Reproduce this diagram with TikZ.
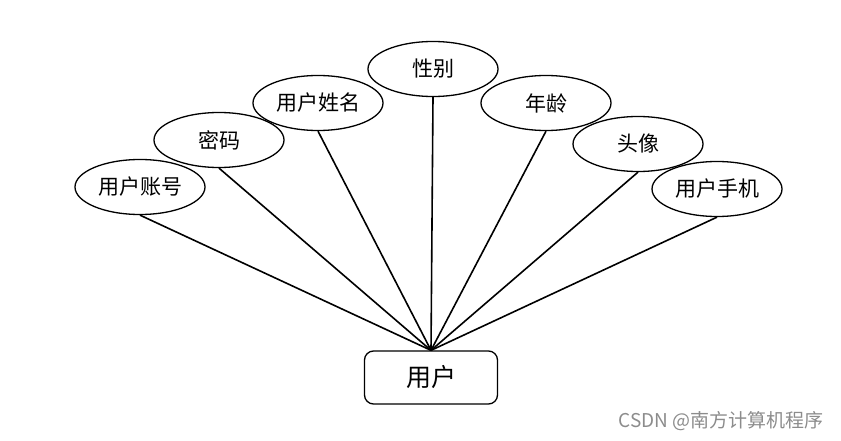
\documentclass[tikz,border=0pt]{standalone}
\usepackage{fontspec}
\setmainfont{Noto Sans CJK SC}
\usetikzlibrary{shapes.geometric}
\tikzset{
  attr/.style={ellipse, draw, line width=1.3pt, minimum width=130pt, minimum height=55pt, inner sep=0pt, font=\fontsize{21}{23}\selectfont},
  ent/.style={rectangle, draw, line width=1.3pt, rounded corners=9pt, minimum width=133pt, minimum height=53pt, inner sep=0pt, font=\fontsize{25}{27}\selectfont}
}
\begin{document}
\begin{tikzpicture}[x=1pt, y=-1pt]
        \useasboundingbox (0,0) rectangle (841,441);
        \node[attr] (zh) at (140,187) {用户账号};
        \node[attr] (mm) at (219,140) {密码};
        \node[attr] (xm) at (318,103) {用户姓名};
        \node[attr] (xb) at (433,69) {性别};
        \node[attr] (nl) at (546,103) {年龄};
        \node[attr] (tx) at (638,144) {头像};
        \node[attr] (sj) at (717,189) {用户手机};
        \node[ent] (yh) at (431,377.5) {用户};
        \foreach \p in {zh,mm,xm,xb,nl,tx,sj} \draw[line width=1.6pt] (\p.south) -- (yh.north);
        \node[text=black!45, font=\fontsize{19}{21}\selectfont] (wm) at (721,421) {CSDN @南方计算机程序};
    \end{tikzpicture}
\end{document}
